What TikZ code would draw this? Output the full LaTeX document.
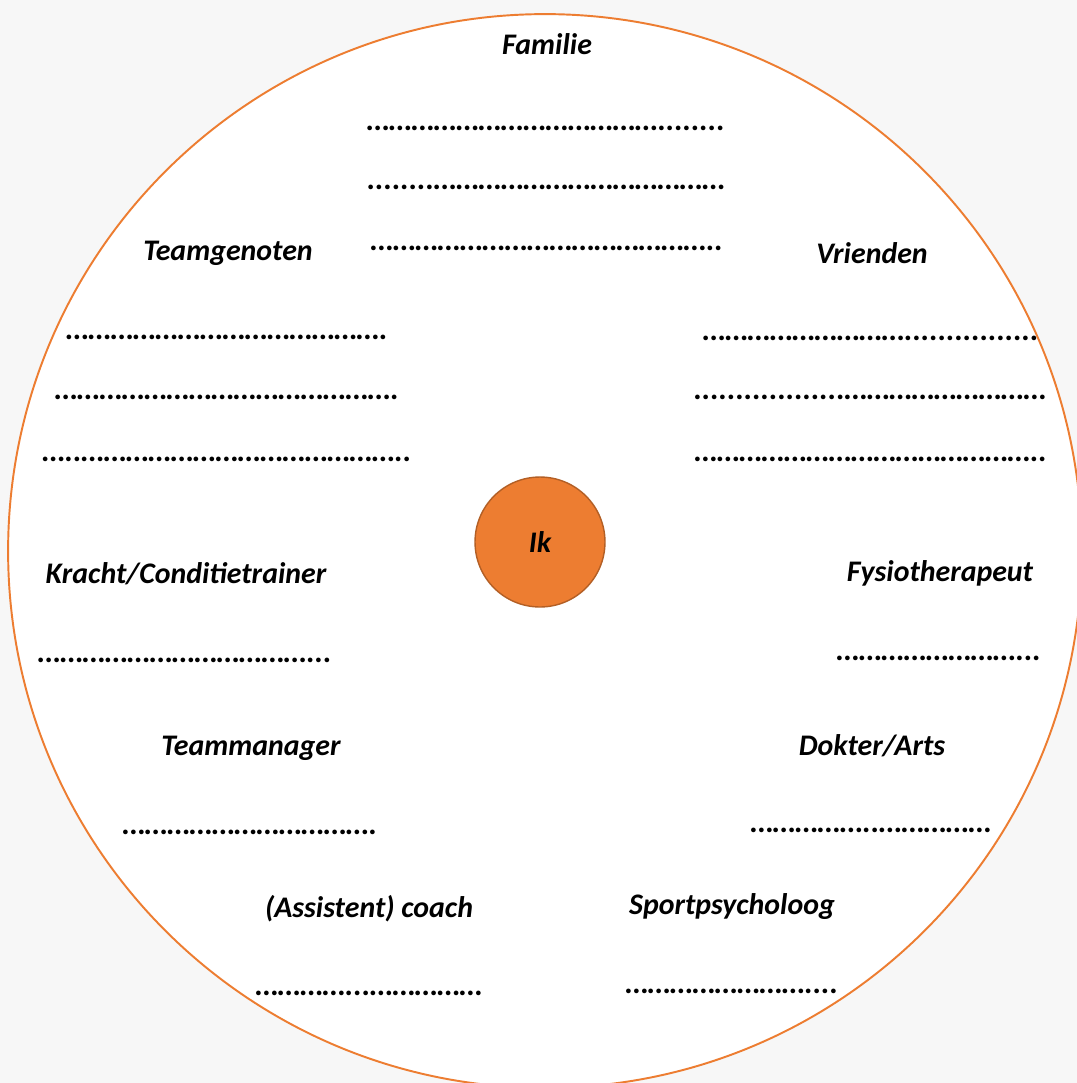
\documentclass[tikz,border=0pt]{standalone}
\usepackage{fontspec}
\setmainfont{Carlito}
\usetikzlibrary{positioning}

\definecolor{oranje}{HTML}{ED7D31}
\definecolor{oranjerand}{HTML}{B35F25}
\definecolor{achtergrond}{HTML}{F7F7F7}

\begin{document}
\begin{tikzpicture}[
        x=0.02cm, y=-0.02cm,
        rol_label/.style={
            inner sep=0pt, font=\fontsize{17}{20}\selectfont\bfseries\itshape
        },
        dot_line/.style={
            inner sep=0pt, font=\fontsize{17.9}{20}\selectfont\bfseries\itshape
        }
    ]

    % Page and outer circle
    \useasboundingbox[fill=achtergrond] (0,0) rectangle (1077,1083);
    \clip (0,0) rectangle (1077,1083);
    \node[draw=oranje, line width=1.1pt, fill=white, circle, minimum size=21.48cm, inner sep=0pt] (netwerk) at (545,551) {};

    % Centre
    \node[draw=oranjerand, line width=0.8pt, fill=oranje, circle, minimum size=2.6cm, inner sep=0pt,
        font=\fontsize{17}{20}\selectfont\bfseries\itshape] (ik) at (540,542) {Ik};

    % Top
    \node[rol_label] (familie) at (547,44) {Familie};
    \node[dot_line] (fam1) at (546,128) {……………{}……………{}………{}........};
    \node[dot_line] (fam2) at (546,187) {........{}……………{}……………{}………};
    \node[dot_line] (fam3) at (547,248) {……………{}……………{}……………{}..};

    % Left side
    \node[rol_label] (teamgenoten) at (228,253) {Teamgenoten};
    \node[dot_line] (tg1) at (227,337) {……………{}……………{}…………{}.};
    \node[dot_line] (tg2) at (227,397) {……………{}……………{}……………{}.};
    \node[dot_line] (tg3) at (227,459) {…{}..{}……………{}……………{}…………{}..};

    \node[rol_label] (kracht) at (186,574) {Kracht/Conditietrainer};
    \node[dot_line] (kr1) at (185,660) {……………{}……………{}……{}...};

    \node[rol_label] (manager) at (251,748) {Teammanager};
    \node[dot_line] (tm1) at (250,832) {……………{}……………{}…{}.};

    \node[rol_label] (coach) at (369,909) {(Assistent) coach};
    \node[dot_line] (co1) at (369,993) {…………{}...{}……………};

    % Right side
    \node[rol_label] (vrienden) at (872,253) {Vrienden};
    \node[dot_line] (vr1) at (871,338) {……………{}…………{}..........{}......};
    \node[dot_line] (vr2) at (870,397) {..........{}........{}……………{}…………};
    \node[dot_line] (vr3) at (871,459) {……………{}……………{}……………{}..};

    \node[rol_label] (fysio) at (940,573) {Fysiotherapeut};
    \node[dot_line] (fy1) at (939,658) {……………{}………{}...};

    \node[rol_label] (dokter) at (872,746) {Dokter/Arts};
    \node[dot_line] (do1) at (871,830) {……………{}..{}……………};

    \node[rol_label] (psycholoog) at (732,907) {Sportpsycholoog};
    \node[dot_line] (ps1) at (732,991) {……………{}………{}....};

\end{tikzpicture}
\end{document}
